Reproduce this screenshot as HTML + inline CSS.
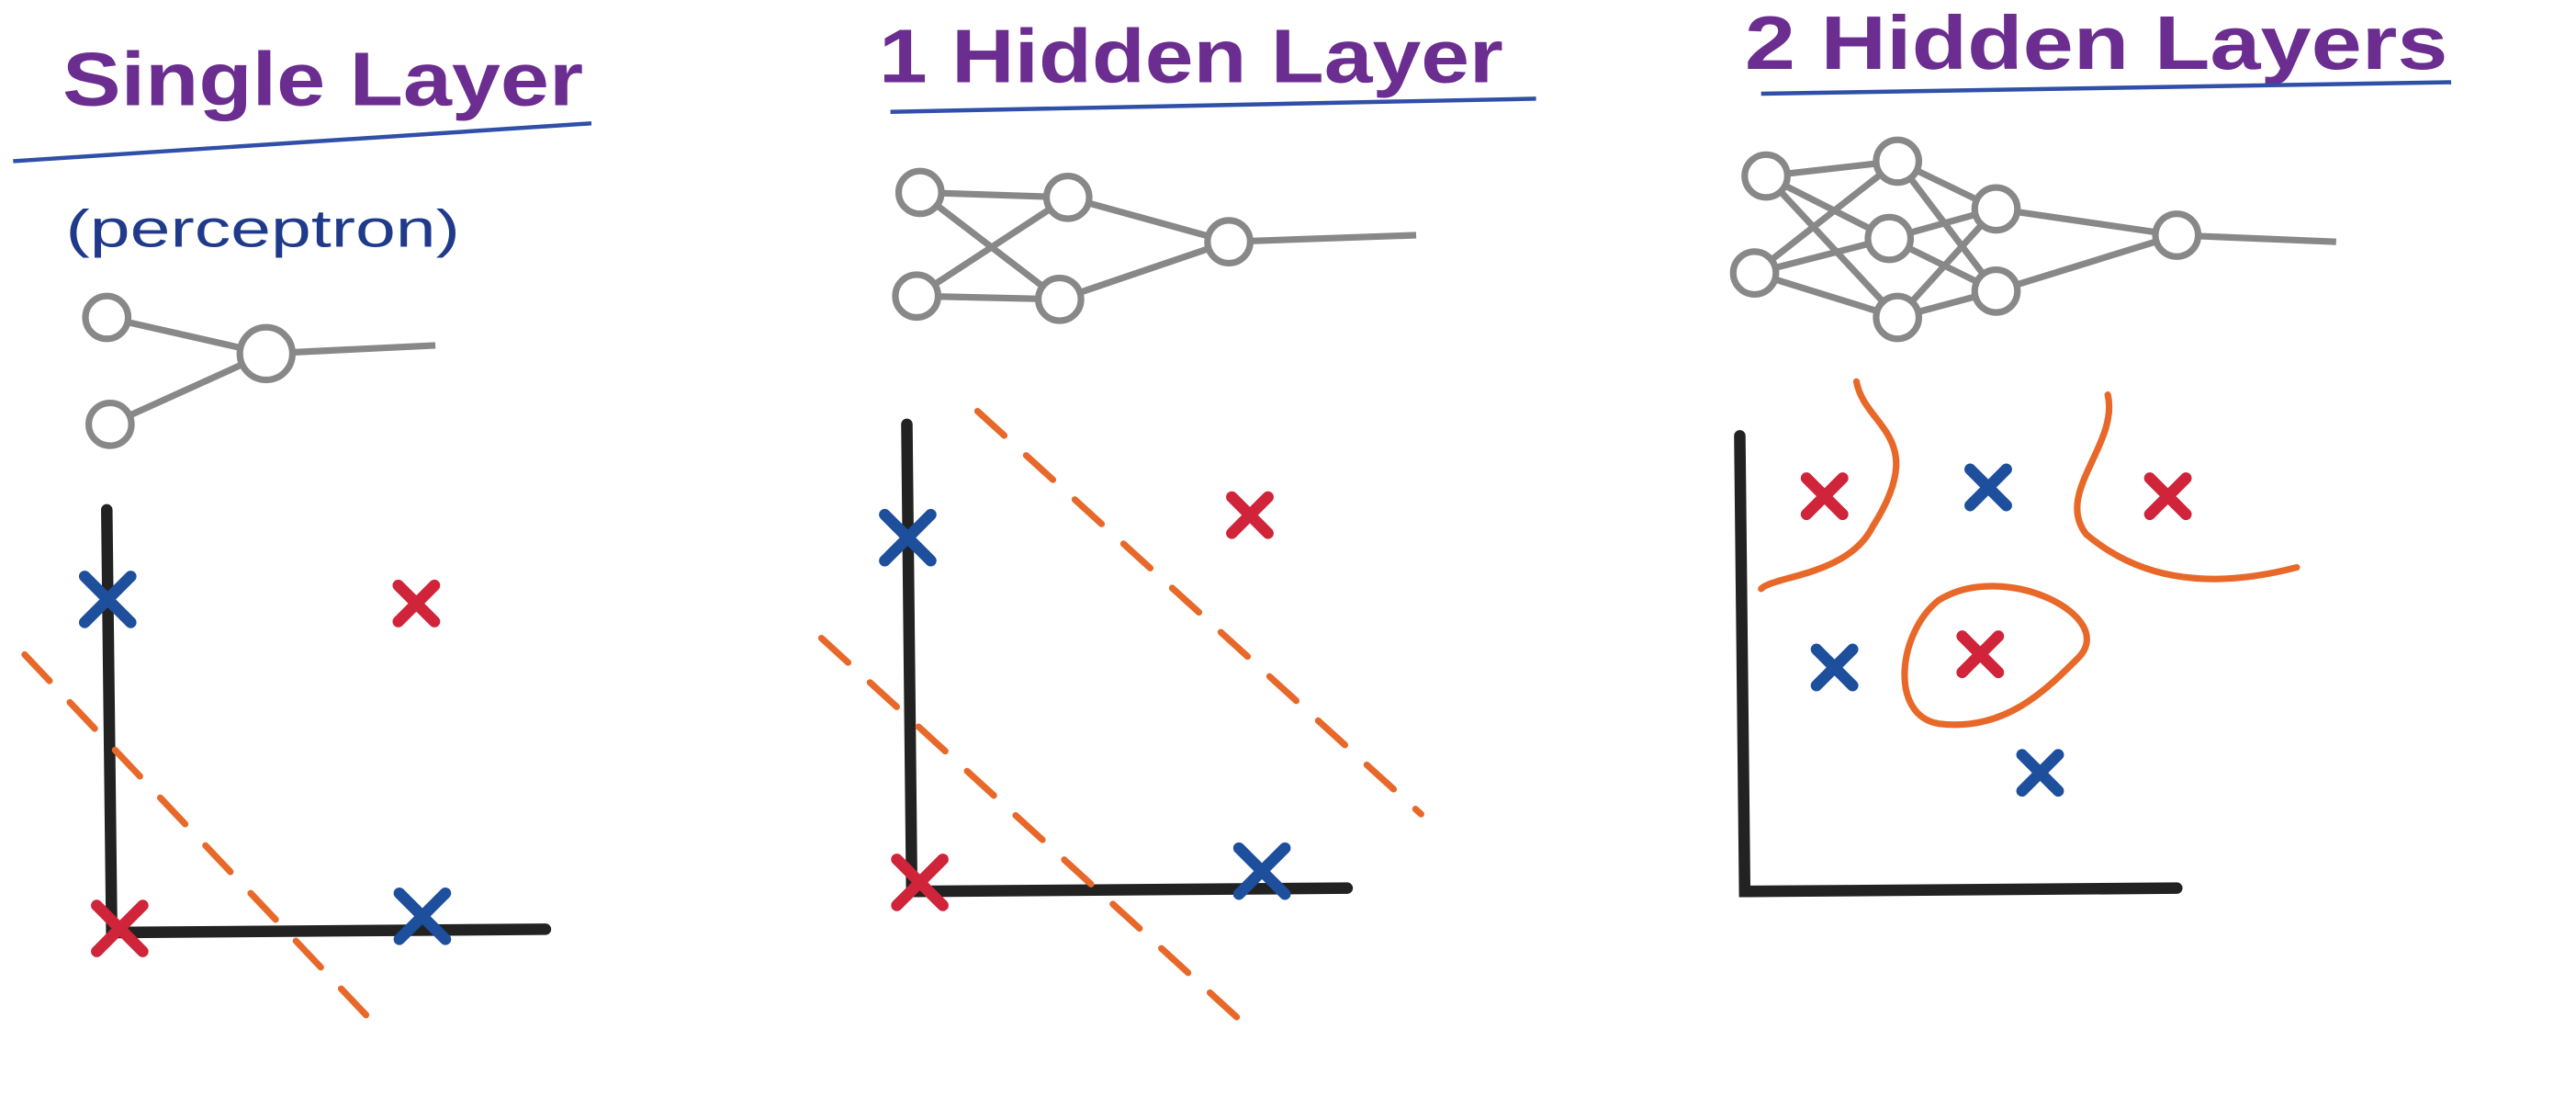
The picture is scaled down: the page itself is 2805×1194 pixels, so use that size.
<!DOCTYPE html>
<html><head><meta charset="utf-8"><style>
html,body{margin:0;padding:0;background:#fff;}
svg{display:block;}
.t{font-family:"Liberation Sans",sans-serif;font-weight:bold;fill:#6b2d8f;font-size:46px;}
.s{font-family:"Liberation Sans",sans-serif;fill:#1f3a8a;font-size:32px;}
</style></head><body>
<svg id="c" width="2805" height="1194" viewBox="0 0 1568 667" preserveAspectRatio="none" xmlns="http://www.w3.org/2000/svg">
<g>
<text class="t" x="38" y="64" textLength="317" lengthAdjust="spacingAndGlyphs">Single Layer</text>
<line x1="8" y1="98" x2="360" y2="75" stroke="#2f4fa8" stroke-width="2.5"/>
<text class="s" x="40" y="150" textLength="240" lengthAdjust="spacingAndGlyphs">(perceptron)</text>
<text class="t" x="535" y="50" textLength="380" lengthAdjust="spacingAndGlyphs">1 Hidden Layer</text>
<line x1="542" y1="68" x2="935" y2="60" stroke="#2f4fa8" stroke-width="2.5"/>
<text class="t" x="1062" y="42" textLength="428" lengthAdjust="spacingAndGlyphs">2 Hidden Layers</text>
<line x1="1072" y1="57" x2="1492" y2="50" stroke="#2f4fa8" stroke-width="2.5"/>
</g>
<g id="nets" stroke="#888" stroke-width="4" fill="none"></g>
<g id="plots"></g>
</svg>
<script>
const panelNames = ['single-layer','one-hidden','two-hidden'];
const pointsX = [[0.2,-0.1,7.75,7.6],[0.2,-0.1,8.7,8.4],[2.0,6.1,10.6,2.25,5.9,7.4]];
const pointsY = [[0.1,8.2,0.4,8.1],[0.2,7.85,0.45,8.35],[9.0,9.2,9.0,5.1,5.4,2.7]];
const pointsClass = [['red','blue','blue','red'],['red','blue','blue','red'],['red','blue','red','blue','red','blue']];
const axes = [{ox:68,oy:567,ex:332,ty:310},{ox:555,oy:542,ex:820,ty:258},{ox:1062,oy:542,ex:1325,ty:265}];
const colors={red:'#d0243a',blue:'#1d4f9c'};
const NS='http://www.w3.org/2000/svg';
function mk(tag,attrs,parent){const e=document.createElementNS(NS,tag);for(const k in attrs)e.setAttribute(k,attrs[k]);parent.appendChild(e);return e;}
const plots=document.getElementById('plots');
axes.forEach((a,i)=>{
  const g=mk('g',{},plots);
  
  
  const xs=v=>a.ox+v*(a.ex-a.ox-20)/10, ys=v=>a.oy-v*(a.oy-a.ty-10)/10;
  const ax=mk('path',{d:`M${a.ox-3},${a.ty} L${a.ox},${a.oy} L${a.ex},${a.oy-2}`,stroke:'#222',fill:'none','stroke-width':7,'stroke-linecap':'round'},g);
  
  
  pointsX[i].forEach((v,j)=>{
    const cx=xs(v),cy=ys(pointsY[i][j]),r=(i<2&&j<3)?14:11;
    const p=mk('path',{d:`M${cx-r},${cy-r} L${cx+r},${cy+r} M${cx+r},${cy-r} L${cx-r},${cy+r}`,stroke:colors[pointsClass[i][j]],'stroke-width':7,'stroke-linecap':'round'},g);
    
    
  });
});
const bd=[['M15,398 L235,630'],['M595,250 L865,495','M500,388 L760,625'],
 ['M1130,232 C1135,260 1175,265 1140,320 C1125,350 1080,350 1072,358','M1283,240 C1290,270 1250,300 1270,325 C1300,350 1340,360 1398,345','M1180,365 C1220,340 1290,375 1265,400 C1245,420 1220,445 1180,440 C1150,435 1155,385 1180,365']];
bd.forEach((ls,i)=>ls.forEach(d=>{
  const p=mk('path',{d:d,stroke:'#e8682a',fill:'none','stroke-width':4,'stroke-dasharray':i<2?'22,18':'none','stroke-linecap':'round'},plots);
  
  
}));
const nets=document.getElementById('nets');
function net(layers,end){
  for(let l=0;l<layers.length-1;l++)layers[l].forEach(a=>layers[l+1].forEach(b=>mk('line',{x1:a[0],y1:a[1],x2:b[0],y2:b[1]},nets)));
  const last=layers[layers.length-1][0];
  mk('path',{d:`M${last[0]},${last[1]} L${end[0]},${end[1]}`},nets);
  layers.forEach(L=>L.forEach(n=>{const c=mk('circle',{cx:n[0],cy:n[1],r:n[2]||13,fill:'#fff'},nets);}));
}
net([[[65,193],[67,258]],[[162,215,16]]],[265,210]);
net([[[560,117],[558,180]],[[650,120],[645,182]],[[748,147]]],[862,143]);
net([[[1075,107],[1068,166]],[[1155,98],[1150,145],[1155,193]],[[1215,127],[1215,177]],[[1325,143]]],[1422,147]);
</script>
</body></html>
